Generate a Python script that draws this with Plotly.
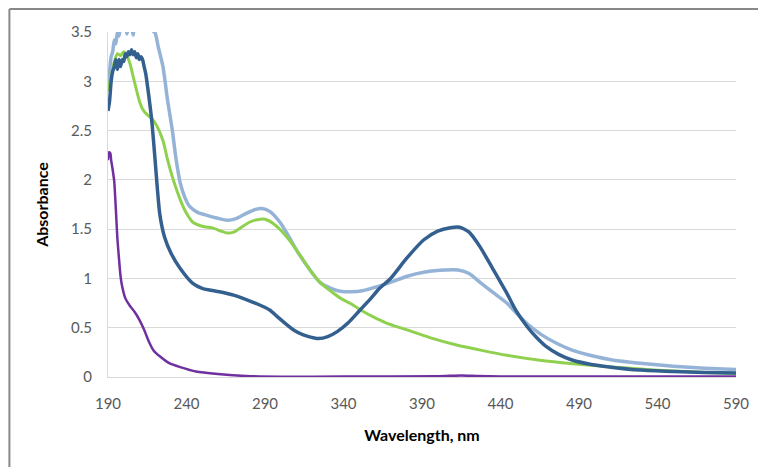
import plotly.graph_objects as go

# Light blue series
lb_x = [190,191,192,193,194,195,196,197,198,199,200,201,202,203,204,205,206,207,208,209,210,212,214,216,218,220,222,225,228,231,233,236,239,242,247,253,260,266,272,278,284,288,293,300,305,310,318,325,332,338,345,352,359,370,380,392,405,413,420,427,435,444,450,457,466,476,486,497,512,529,550,570,590]
lb_y = [2.95,3.1,3.25,3.3,3.42,3.38,3.5,3.46,3.56,3.62,3.55,3.6,3.48,3.54,3.62,3.55,3.47,3.6,3.52,3.62,3.7,3.65,3.6,3.55,3.52,3.49,3.35,3.15,2.8,2.5,2.25,1.97,1.82,1.73,1.67,1.64,1.61,1.59,1.61,1.66,1.7,1.71,1.68,1.56,1.43,1.29,1.1,0.96,0.9,0.87,0.865,0.875,0.905,0.96,1.02,1.065,1.085,1.085,1.05,0.96,0.86,0.75,0.65,0.54,0.43,0.34,0.27,0.22,0.17,0.14,0.11,0.09,0.075]

# Green series
gr_x = [190,192,194,196,198,200,202,204,206,208,210,212,215,218,221,225,228,231,236,240,244,250,257,262,266,270,275,280,285,290,295,300,305,310,318,325,332,338,345,352,359,367,380,395,412,428,444,465,486,505,525,550,570,590]
gr_y = [2.9,3.05,3.2,3.28,3.26,3.3,3.26,3.18,3.05,2.92,2.8,2.72,2.66,2.62,2.55,2.4,2.2,2.03,1.8,1.66,1.57,1.53,1.51,1.48,1.46,1.47,1.52,1.57,1.595,1.6,1.56,1.49,1.4,1.29,1.1,0.96,0.87,0.8,0.74,0.67,0.61,0.55,0.48,0.4,0.325,0.27,0.22,0.17,0.135,0.11,0.085,0.06,0.045,0.035]

# Dark blue series
db_x = [190,191,192,193,194,195,196,197,198,199,200,201,202,203,204,205,206,207,208,209,210,211,212,213,214,216,218,220,223,226,230,236,244,250,261,270,282,288,293,298,304,309,314,319,324,330,336,343,350,357,363,370,380,391,400,408,414,420,427,435,444,450,457,463,469,477,486,497,508,529,550,570,590]
db_y = [2.7,2.8,3.0,3.1,3.15,3.22,3.12,3.22,3.15,3.22,3.2,3.28,3.25,3.3,3.27,3.32,3.27,3.3,3.24,3.28,3.22,3.25,3.22,3.15,3.08,2.85,2.58,2.2,1.65,1.42,1.26,1.1,0.95,0.9,0.865,0.83,0.76,0.72,0.68,0.61,0.53,0.47,0.43,0.405,0.39,0.41,0.46,0.55,0.67,0.79,0.9,1.0,1.2,1.39,1.48,1.515,1.52,1.47,1.32,1.1,0.85,0.67,0.51,0.4,0.31,0.23,0.17,0.13,0.105,0.07,0.055,0.045,0.04]

# Purple series
pu_x = [190,190.7,191.5,192,193,194,195,196,197,198,199,201,204,207,210,213,216,219,223,229,236,246,260,278,300,340,400,415,425,440,500,590]
pu_y = [2.2,2.28,2.27,2.2,2.1,1.98,1.7,1.4,1.2,1.02,0.92,0.8,0.72,0.66,0.58,0.48,0.36,0.27,0.21,0.14,0.1,0.055,0.03,0.01,0.003,0.005,0.008,0.015,0.01,0.005,0.005,0.005]

x_ticks = [190,240,290,340,390,440,490,540,590]
y_ticks = [0,0.5,1,1.5,2,2.5,3,3.5]
y_labels = ["0","0.5","1","1.5","2","2.5","3","3.5"]

fig = go.Figure()
fig.add_trace(go.Scatter(x=lb_x, y=lb_y, mode="lines", line=dict(color="#95B3D7", width=3.5, shape="spline", smoothing=0.6)))
fig.add_trace(go.Scatter(x=gr_x, y=gr_y, mode="lines", line=dict(color="#8FD14F", width=3, shape="spline", smoothing=0.6)))
fig.add_trace(go.Scatter(x=db_x, y=db_y, mode="lines", line=dict(color="#34608F", width=3.5, shape="spline", smoothing=0.6)))
fig.add_trace(go.Scatter(x=pu_x, y=pu_y, mode="lines", line=dict(color="#7030A0", width=2.5, shape="spline", smoothing=0.6)))

# chart frame: top and left edges only
fig.add_shape(type="line", xref="paper", yref="paper", x0=-0.157, x1=1.2, y0=1.0667, y1=1.0667,
              line=dict(color="#888888", width=2), layer="below")
fig.add_shape(type="line", xref="paper", yref="paper", x0=-0.157, x1=-0.157, y0=-0.4, y1=1.0667,
              line=dict(color="#888888", width=2), layer="below")

fig.update_layout(
    width=758, height=459,
    margin=dict(l=100, r=30, t=24, b=90),
    paper_bgcolor="white", plot_bgcolor="white",
    showlegend=False,
    font=dict(family="Lato, Open Sans, sans-serif", color="#595959"),
    xaxis=dict(range=[190, 590], tickvals=x_ticks, showgrid=False, showline=True,
               linecolor="#D9D9D9", linewidth=1, ticks="", zeroline=False,
               tickfont=dict(size=15, color="#595959"),
               ticklabelstandoff=13,
               title=dict(text="<b>Wavelength, nm</b>", font=dict(size=16, color="#000000"), standoff=18)),
    yaxis=dict(range=[0, 3.5], tickvals=y_ticks, ticktext=y_labels, showgrid=True,
               gridcolor="#D9D9D9", gridwidth=1, showline=True, linecolor="#D9D9D9",
               ticks="", zeroline=False, tickfont=dict(size=15, color="#595959"),
               ticklabelstandoff=12,
               title=dict(text="<b>Absorbance</b>", font=dict(size=16, color="#000000"), standoff=18)),
)

fig.write_html("out.html")
